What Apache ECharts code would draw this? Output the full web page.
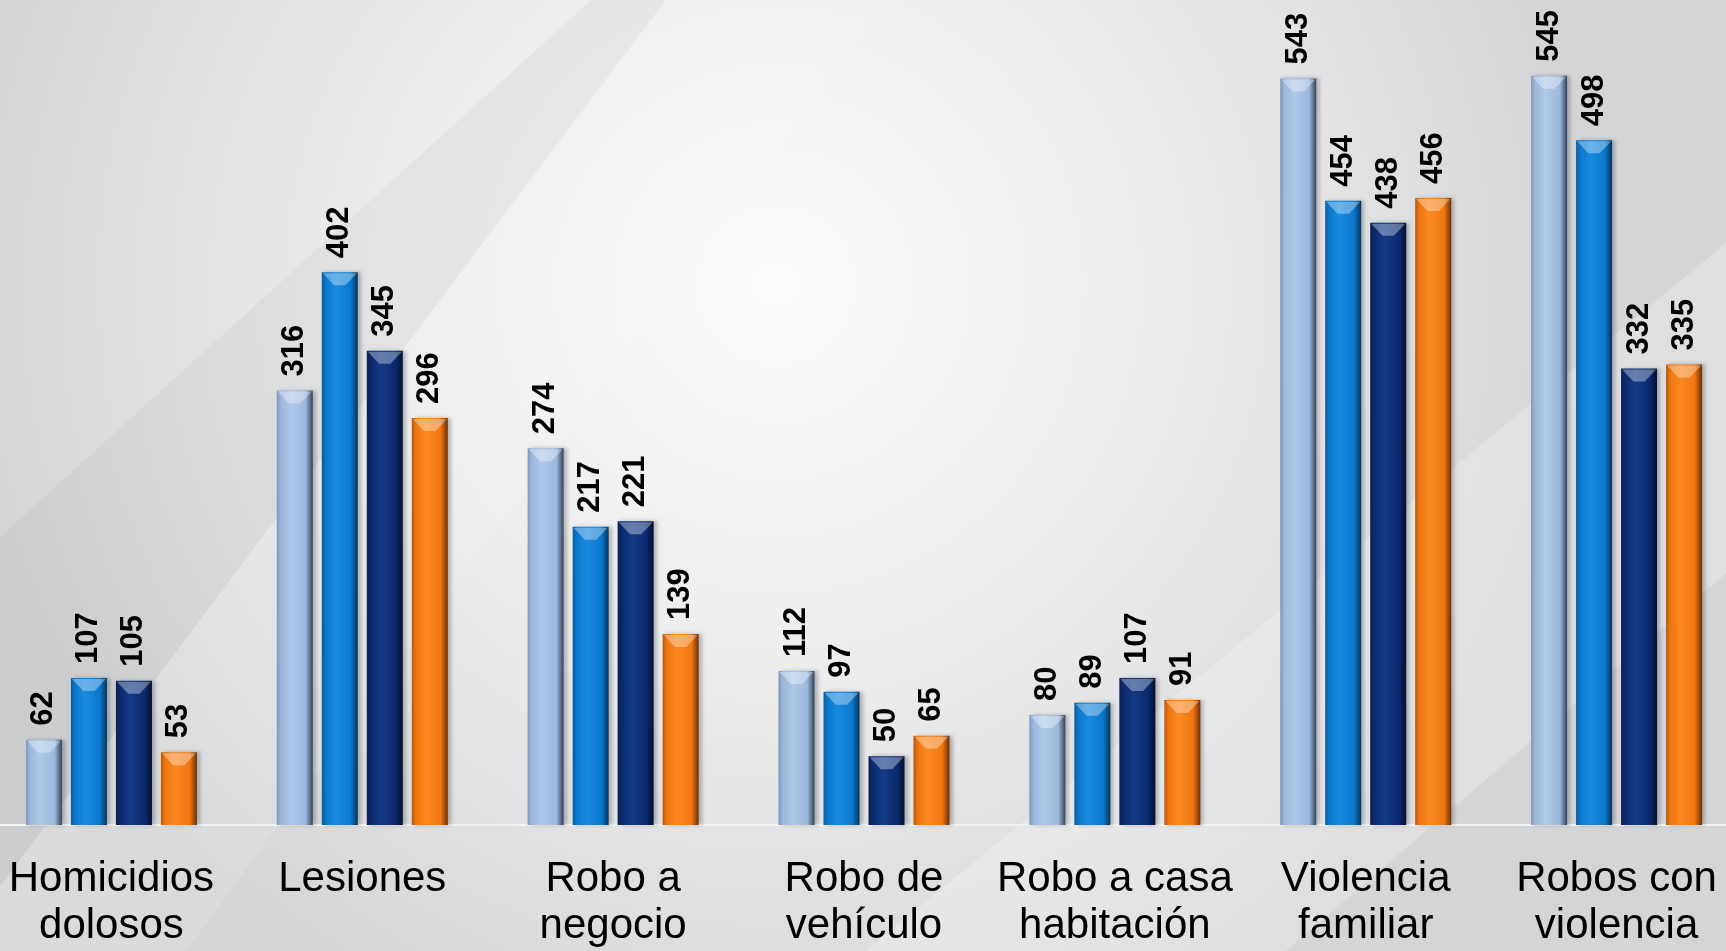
<!DOCTYPE html>
<html>
<head>
<meta charset="utf-8">
<script src="https://cdn.jsdelivr.net/npm/echarts@6/dist/echarts.min.js"></script>
<style>
  html, body { margin: 0; padding: 0; overflow: hidden; background: #d8d9db; }
  /* el gráfico desborda un poco a los lados, como en la lámina original */
  #chart { position: absolute; left: -14px; top: 0; width: 1756px; height: 951px; }
</style>
</head>
<body>
<div id="chart"></div>
<script>
const categories = [
  "Homicidios\ndolosos",
  "Lesiones",
  "Robo a\nnegocio",
  "Robo de\nvehículo",
  "Robo a casa\nhabitación",
  "Violencia\nfamiliar",
  "Robos con\nviolencia"
]
const serie1 = [62, 316, 274, 112, 80, 543, 545]
const serie2 = [107, 402, 217, 97, 89, 454, 498]
const serie3 = [105, 345, 221, 50, 107, 438, 332]
const serie4 = [53, 296, 139, 65, 91, 456, 335]

// colores: borde izq, centro, base, borde der
const palette = [
  ["#7f98b8", "#b0c8e8", "#9cb8dd", "#34435a"],
  ["#0a5c9e", "#1a8ae0", "#0a78cc", "#05345f"],
  ["#0a1f52", "#143a86", "#0b2a6e", "#040f2c"],
  ["#b85808", "#fb8a22", "#f07610", "#6e3004"]
]

const chart = echarts.init(document.getElementById("chart"))

const barColor = c => new echarts.graphic.LinearGradient(0, 0, 1, 0, [
  { offset: 0, color: c[0] },
  { offset: 0.12, color: c[2] },
  { offset: 0.4, color: c[1] },
  { offset: 0.8, color: c[2] },
  { offset: 1, color: c[3] }
])

const datos = [serie1, serie2, serie3, serie4]
const series = []
datos.forEach((d, i) => {
  series.push({
    name: "Serie " + (i + 1),
    type: "bar",
    barWidth: 36,
    barGap: "25%",
    z: 2,
    itemStyle: {
      color: barColor(palette[i]),
      shadowColor: "rgba(0,0,0,0.25)",
      shadowBlur: 4,
      shadowOffsetX: 3
    },
    label: {
      show: true,
      position: "top",
      rotate: 90,
      align: "left",
      verticalAlign: "middle",
      distance: 14,
      color: "#000",
      fontSize: 31,
      fontWeight: "bold",
      fontFamily: "Liberation Sans"
    },
    data: d
  })
})
// brillo superior (chevron)
datos.forEach((d, i) => {
  series.push({
    name: "brillo " + (i + 1),
    type: "pictorialBar",
    barWidth: 36,
    barGap: "25%",
    symbol: "path://M0,0 L36,0 L24,11 L12,11 Z",
    symbolSize: [34, 12],
    symbolPosition: "end",
    symbolOffset: [0, 1],
    z: 3,
    silent: true,
    itemStyle: { color: "rgba(255,255,255,0.35)" },
    data: d
  })
})

const option = {
  backgroundColor: {
    type: "radial",
    x: 0.45, y: 0.3, r: 0.85,
    colorStops: [
      { offset: 0, color: "#fbfbfb" },
      { offset: 0.5, color: "#ececed" },
      { offset: 1, color: "#d4d5d7" }
    ]
  },
  graphic: [
    {
      // banda oscura diagonal, abajo a la izquierda
      type: "polygon",
      z: -10,
      shape: { points: [[14, 537], [605, 14 - 14], [680, 0], [14, 886]] },
      style: { fill: "rgba(0,0,0,0.035)" }
    },
    {
      type: "polygon",
      z: -10,
      shape: { points: [[14, 886], [680, 0], [900, 0], [200, 951], [14, 951]] },
      style: { fill: "rgba(255,255,255,0.12)" }
    },
    {
      type: "polygon",
      z: -10,
      shape: { points: [[880, 951], [1756, 230], [1756, 560], [1300, 951]] },
      style: { fill: "rgba(255,255,255,0.25)" }
    }
  ],
  grid: {
    left: 0,
    right: 0,
    top: 0,
    bottom: 126
  },
  xAxis: {
    type: "category",
    data: categories,
    axisTick: { show: false },
    axisLine: { lineStyle: { color: "#f2f2f2", width: 2 } },
    axisLabel: {
      interval: 0,
      margin: 31,
      color: "#000",
      fontSize: 42,
      lineHeight: 47,
      fontFamily: "Liberation Sans"
    }
  },
  yAxis: {
    type: "value",
    min: 0,
    max: 600,
    show: false,
    splitLine: { show: false }
  },
  series: series
}

chart.setOption(option)
</script>
</body>
</html>
